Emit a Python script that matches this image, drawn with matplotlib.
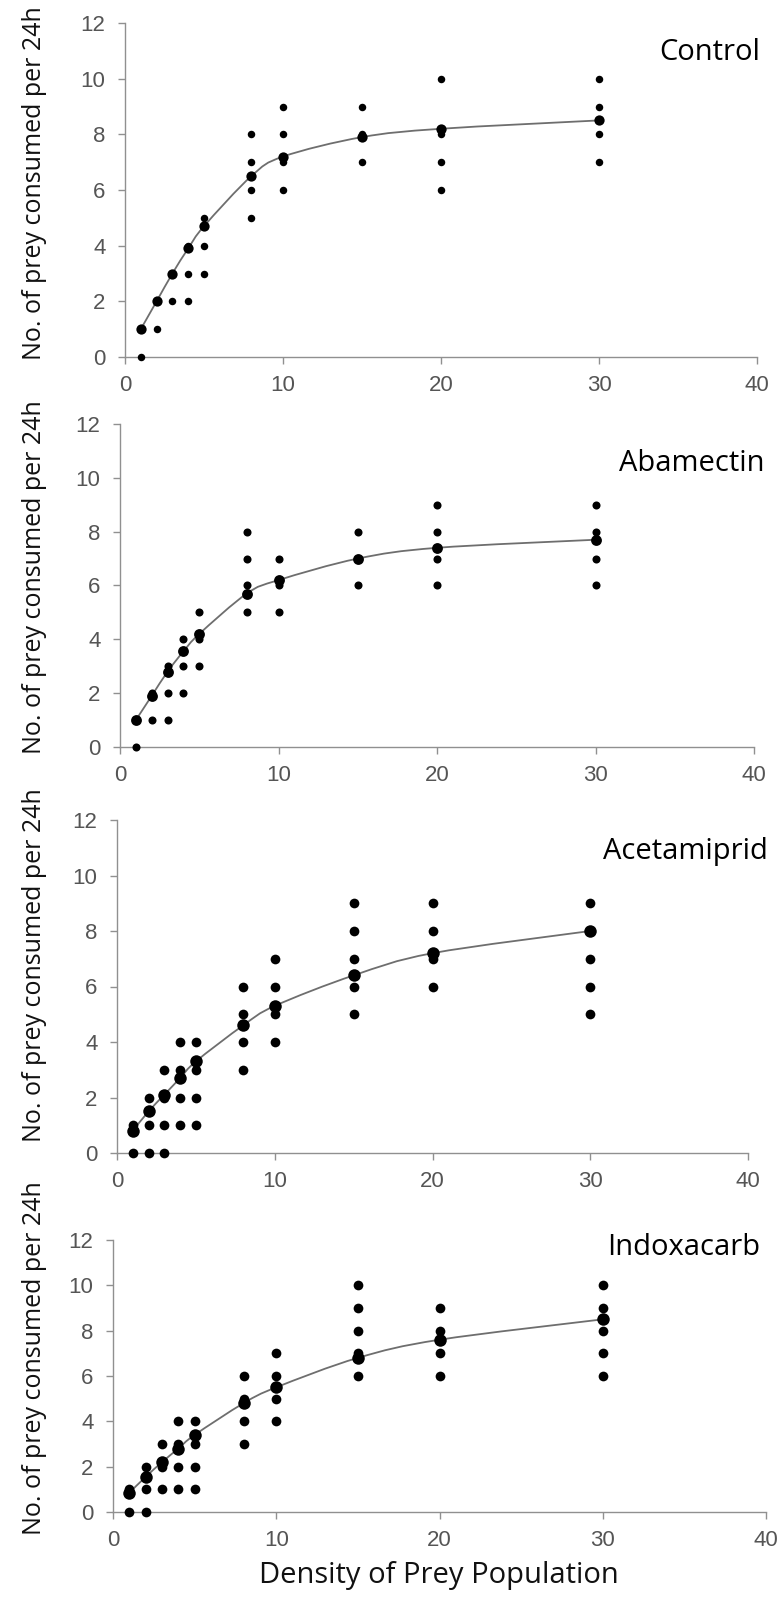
import numpy as np
import matplotlib.pyplot as plt
from matplotlib.path import Path
from matplotlib.patches import PathPatch

# prey densities offered
density = [1, 2, 3, 4, 5, 8, 10, 15, 20, 30]

# observed prey consumed per 24h (one list per density)
control_obs = [[1, 1, 0], [2, 1], [3, 2], [4, 3, 2], [5, 4, 3], [8, 7, 6, 5],
               [9, 8, 7, 6], [9, 8, 7], [10, 8, 7, 6], [10, 9, 8, 7]]
abamectin_obs = [[1, 0], [2, 1], [3, 2, 1], [4, 3, 2], [5, 4, 3], [8, 7, 6, 5],
                 [7, 6, 5], [8, 7, 6], [9, 8, 7, 6], [9, 8, 7, 6]]
acetamiprid_obs = [[1, 0], [2, 1, 0], [3, 2, 1, 0], [4, 3, 2, 1], [4, 3, 2, 1],
                   [6, 5, 4, 3], [7, 6, 5, 4], [9, 8, 7, 6, 5], [9, 8, 7, 6],
                   [9, 8, 7, 6, 5]]
indoxacarb_obs = [[1, 0], [2, 1, 0], [3, 2, 1], [4, 3, 2, 1], [4, 3, 2, 1],
                  [6, 5, 4, 3], [7, 6, 5, 4], [10, 9, 8, 7, 6], [9, 8, 7, 6],
                  [10, 9, 8, 7, 6]]

# fitted functional response values
control_fit = [1.0, 2.0, 3.0, 3.9, 4.7, 6.5, 7.2, 7.9, 8.2, 8.5]
abamectin_fit = [1.0, 1.9, 2.8, 3.55, 4.2, 5.7, 6.2, 7.0, 7.4, 7.7]
acetamiprid_fit = [0.8, 1.5, 2.1, 2.7, 3.3, 4.6, 5.3, 6.4, 7.2, 8.0]
indoxacarb_fit = [0.85, 1.55, 2.2, 2.8, 3.4, 4.8, 5.5, 6.8, 7.6, 8.5]

names = ['Control', 'Abamectin', 'Acetamiprid', 'Indoxacarb']
observed = [control_obs, abamectin_obs, acetamiprid_obs, indoxacarb_obs]
fitted = [control_fit, abamectin_fit, acetamiprid_fit, indoxacarb_fit]


def smooth_path(x, y):
    # Excel-like smoothed line: Catmull-Rom segments as cubic Beziers
    p = np.column_stack([x, y]).astype(float)
    verts = [p[0]]
    codes = [Path.MOVETO]
    for i in range(len(p) - 1):
        p0 = p[i - 1] if i > 0 else p[i]
        p3 = p[i + 2] if i + 2 < len(p) else p[i + 1]
        c1 = p[i] + (p[i + 1] - p0) / 6
        c2 = p[i + 1] - (p3 - p[i]) / 6
        verts += [c1, c2, p[i + 1]]
        codes += [Path.CURVE4] * 3
    return Path(verts, codes)


fig = plt.figure(figsize=(7.81, 16.07), dpi=100)
W, H = 781, 1607
# axes boxes in pixels: left, right, top, bottom
boxes = [(125, 757, 23, 357), (120, 754, 424, 747),
         (117, 748, 820, 1153), (113, 766, 1240, 1512)]
dot_sizes = [5.4, 5.8, 7.0, 7.0]
title_pos = [(1.005, 0.913), (1.016, 0.879), (1.032, 0.904), (0.991, 0.974)]
ylabel_center = [183, 577, 965, 1358]

grey = '#909090'
for i, (name, obs, fit) in enumerate(zip(names, observed, fitted)):
    l, r, t, b = boxes[i]
    ms = dot_sizes[i]
    ax = fig.add_axes([l / W, 1 - b / H, (r - l) / W, (b - t) / H])

    xs = [d for d, vals in zip(density, obs) for _ in vals]
    ys = [v for vals in obs for v in vals]
    ax.plot(xs, ys, 'o', color='black', ms=ms, mew=0, clip_on=False, zorder=3)
    ax.add_patch(PathPatch(smooth_path(density, fit), fill=False,
                           edgecolor='#6e6e6e', lw=1.3, zorder=2))
    ax.plot(density, fit, 'o', color='black', ms=ms + 2, mew=0,
            clip_on=False, zorder=3)

    ax.set_xlim(0, 40)
    ax.set_ylim(0, 12)
    ax.set_xticks([0, 10, 20, 30, 40])
    ax.set_yticks(range(0, 13, 2))
    for side in ['top', 'right']:
        ax.spines[side].set_visible(False)
    for side in ['left', 'bottom']:
        ax.spines[side].set_color(grey)
        ax.spines[side].set_linewidth(1.0)
    ax.tick_params(colors=grey, labelcolor='#555555', labelsize=16,
                   length=5, width=1.0)
    ax.tick_params(axis='y', pad=9)
    ax.tick_params(axis='x', pad=8)
    for lab in ax.get_xticklabels() + ax.get_yticklabels():
        lab.set_family('Liberation Sans')

    ax.set_ylabel('No. of prey consumed per 24h', family='Open Sans',
                  fontsize=18, color='#111111')
    ax.yaxis.set_label_coords((47 - l) / (r - l),
                              (b - ylabel_center[i]) / (b - t))
    tx, ty = title_pos[i]
    ax.text(tx, ty, name, transform=ax.transAxes, ha='right', va='center',
            family='Open Sans', fontsize=21, color='black')

fig.text(0.562, 1 - 1575 / H, 'Density of Prey Population', ha='center',
         va='center', family='Open Sans', fontsize=21, color='#111111')

plt.savefig('out.png', dpi=100)
